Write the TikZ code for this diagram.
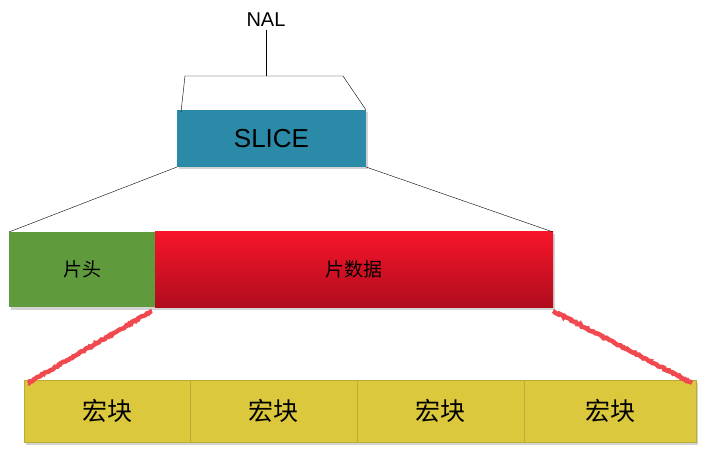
\documentclass[tikz,border=0pt]{standalone}
\usepackage{fontspec}
\setmainfont{Liberation Sans}
\newfontfamily\cjk{Noto Sans CJK SC}
\usetikzlibrary{shadows,decorations.pathmorphing}
\definecolor{slicecol}{HTML}{2B8AA8}
\definecolor{headcol}{HTML}{5F9A3C}
\definecolor{datatop}{HTML}{F7152A}
\definecolor{databot}{HTML}{B00C1E}
\definecolor{mbcol}{HTML}{DCC83C}
\definecolor{wavecol}{HTML}{F04A50}
\begin{document}
\begin{tikzpicture}[x=1pt,y=-1pt,
  box/.style={rectangle, anchor=north west, inner sep=0, outer sep=0,
    drop shadow={shadow xshift=1.5pt, shadow yshift=-2.5pt, opacity=.35}},
  mbbox/.style={box, fill=mbcol, draw=mbcol!85!black, line width=.5pt, minimum height=62,
    font=\cjk\fontsize{25}{27}\selectfont},
  wave/.style={wavecol, line width=4.5pt,
    decorate, decoration={random steps, segment length=1.5pt, amplitude=.8pt}}]
\useasboundingbox (0,0) rectangle (706,454);
\node[font=\fontsize{20}{22}\selectfont] (nal) at (266,20){NAL};
\node[box, fill=slicecol, minimum width=189, minimum height=57,
  font=\fontsize{26}{28}\selectfont] (slice) at (177,110){SLICE};
\coordinate (bl) at (185,76);
\coordinate (br) at (343,76);
\draw[](nal.south) -- (nal.south|-bl);
\draw[](slice.north west) ++(4,2) -- (bl) -- (br) -- (slice.north east);
\node[box, fill=headcol, minimum width=146, minimum height=75,
  font=\cjk\fontsize{19}{21}\selectfont] (head) at (9,232){片头};
\node[box, top color=datatop, bottom color=databot, minimum width=398, minimum height=75,
  font=\cjk\fontsize{19}{21}\selectfont] (data) at (155,232){片数据};
\draw[](slice.south west) -- (head.north west);
\draw[](slice.south east) -- (data.north east);
\node[mbbox, minimum width=166] (mb1) at (24,380){宏块};
\node[mbbox, minimum width=167] (mb2) at (190,380){宏块};
\node[mbbox, minimum width=167] (mb3) at (357,380){宏块};
\node[mbbox, minimum width=172] (mb4) at (524,380){宏块};
\draw[wave](head.south east) ++(-3,4) -- ([xshift=4pt,yshift=-3pt]mb1.north west);
\draw[wave](data.south east) ++(0,4) -- ([xshift=-4pt,yshift=-3pt]mb4.north east);
\end{tikzpicture}
\end{document}
